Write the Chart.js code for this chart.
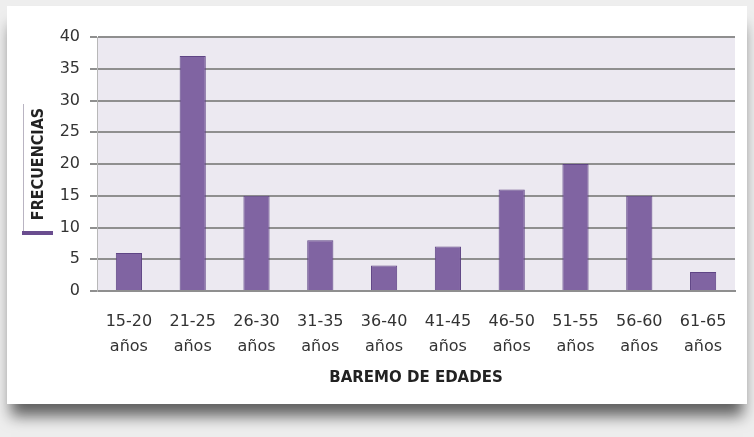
<!DOCTYPE html>
<html>
<head>
<meta charset="utf-8">
<script src="https://cdn.jsdelivr.net/npm/chart.js@4.4.0/dist/chart.umd.min.js"></script>
<style>
  html, body { margin: 0; padding: 0; }
  body { width: 754px; height: 437px; background: #eeeeee; position: relative; overflow: hidden; }
  #card { position: absolute; left: 7px; top: 6px; width: 740px; height: 398px; background: #ffffff;
          box-shadow: 0 16px 14px -4px rgba(0,0,0,0.6); }
  #wrap { position: absolute; left: 0; top: 0; width: 754px; height: 437px; }
</style>
</head>
<body>
<div id="card"></div>
<div id="wrap"><canvas id="edadesChart" width="754" height="437"></canvas></div>
<script>
const categories = [['15-20','años'],['21-25','años'],['26-30','años'],['31-35','años'],['36-40','años'],
                    ['41-45','años'],['46-50','años'],['51-55','años'],['56-60','años'],['61-65','años']];
const frecuencias = [6, 37, 15, 8, 4, 7, 16, 20, 15, 3];
const yTicks = [0, 5, 10, 15, 20, 25, 30, 35, 40];

// lavender plot background + decoration around the y title
const plotDecor = {
  id: 'plotDecor',
  beforeDraw(chart) {
    const {ctx, chartArea: a} = chart;
    ctx.save();
    ctx.fillStyle = '#ece9f1';
    ctx.fillRect(a.left, a.top, a.right - a.left, a.bottom - a.top);
    // title box edges
    ctx.strokeStyle = '#b9b4c2';
    ctx.lineWidth = 1;
    ctx.beginPath();
    ctx.moveTo(23.5, 104);
    ctx.lineTo(23.5, 232);
    ctx.stroke();
    ctx.strokeStyle = '#6a4d8f';
    ctx.lineWidth = 4;
    ctx.beginPath();
    ctx.moveTo(22, 233);
    ctx.lineTo(53, 233);
    ctx.stroke();
    ctx.restore();
  }
};

new Chart(document.getElementById('edadesChart').getContext('2d'), {
  type: 'bar',
  data: {
    labels: categories,
    datasets: [{
      label: 'Frecuencias',
      data: frecuencias,
      backgroundColor: '#8064a2',
      borderColor: '#5f4585',
      borderWidth: 1,
      barPercentage: 0.41,
      categoryPercentage: 1
    }]
  },
  options: {
    responsive: false,
    animation: false,
    layout: { padding: { left: 0, right: 19, top: 37, bottom: 0 } },
    plugins: { legend: { display: false }, tooltip: { enabled: false } },
    scales: {
      x: {
        grid: { display: false },
        border: { display: true, color: '#8f8f8f', width: 2 },
        ticks: { color: '#333', font: { family: 'DejaVu Sans', size: 16, lineHeight: 1.56 }, padding: 10, maxRotation: 0 },
        title: { display: true, text: 'BAREMO DE EDADES', color: '#222',
                 font: { family: 'DejaVu Sans', size: 15, weight: 'bold' }, padding: { top: 0, bottom: 50 } },
        afterFit(scale) { scale.height = 146; }
      },
      y: {
        min: 0, max: 40,
        afterBuildTicks(scale) { scale.ticks = yTicks.map(v => ({ value: v })); },
        grid: { color: '#8f8f8f', lineWidth: 2, tickLength: 7 },
        border: { display: true, color: '#b8b8b8', width: 1 },
        ticks: { color: '#333', font: { family: 'DejaVu Sans', size: 16 }, padding: 10 },
        title: { display: true, text: 'FRECUENCIAS', color: '#222',
                 font: { family: 'DejaVu Sans Condensed', size: 16, weight: 'bold' }, padding: { top: 29, bottom: 0 } },
        afterFit(scale) { scale.width = 97; }
      }
    }
  },
  plugins: [plotDecor]
});
</script>
</body>
</html>
